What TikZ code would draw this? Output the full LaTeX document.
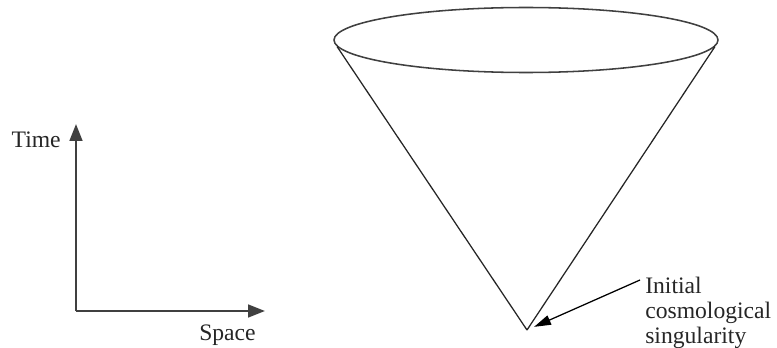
\documentclass[tikz,border=0pt]{standalone}
\usepackage{fontspec}
\setmainfont{Liberation Serif}
\usetikzlibrary{arrows.meta,positioning,shapes.geometric}

\begin{document}
\begin{tikzpicture}[
        x=0.025cm, y=-0.025cm,
        font=\fontsize{16.8}{17.8}\selectfont,
        axis/.style={
            line width=1.6pt,
            draw=black!75,
            -{Triangle[length=12pt,width=9pt]}
        },
        rim/.style={
            ellipse,
            draw=black!75,
            line width=1.1pt,
            inner sep=0pt,
            minimum width=384*0.025cm,
            minimum height=65*0.025cm
        },
        side/.style={line width=0.9pt, draw=black!85},
        label/.style={inner sep=0pt, align=left, text=black!85},
        pointer/.style={
            line width=0.9pt,
            -{Triangle[length=12pt,width=7pt]},
            shorten >=5.5pt
        }
    ]
        \useasboundingbox (0,0) rectangle (777,348);

        \coordinate (origin) at (76,311);
        \coordinate (timeend) at (76,124);
        \coordinate (spaceend) at (265,311);
        \draw[axis] (origin) -- (timeend);
        \draw[axis] (origin) -- (spaceend);
        \node[label, anchor=base east] (time) at (61,147) {Time};
        \node[label, anchor=base west] (space) at (199,340) {Space};

        \node[rim] (rim) at (526,40) {};
        \coordinate (apex) at (527,330);
        \foreach \angle in {182,358} {
            \draw[side] (rim.\angle) -- (apex);
        }

        \node[label, anchor=north west] (singular) at (645,277) {Initial\\cosmological\\singularity};
        \draw[pointer] ([shift={(-5,3)}]singular.north west) -- (apex);
    \end{tikzpicture}
\end{document}
